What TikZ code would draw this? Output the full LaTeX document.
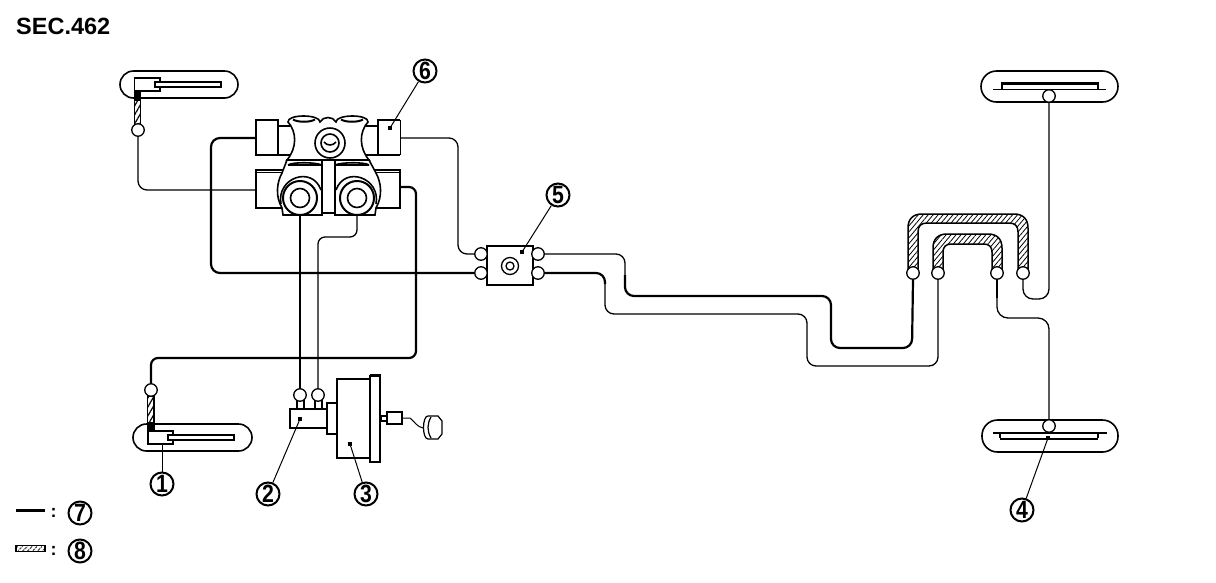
\documentclass[tikz,border=0pt]{standalone}
\usepackage{fontspec}
\setmainfont{Liberation Sans}
\usetikzlibrary{patterns.meta,backgrounds}
\newcommand{\digitnum}[1]{\scalebox{.85}[1]{#1}}
\tikzset{
  x=1pt,y=-1pt,
  thin line/.style={line width=1.3pt,rounded corners=9pt},
  thick line/.style={line width=2.2pt,rounded corners=9pt},
  part/.style={draw,line width=1.6pt,fill=white},
  port/.style={circle,draw,line width=1.3pt,fill=white,inner sep=0pt,minimum size=12.5pt},
  pill/.style={draw,line width=1.6pt,rounded corners=13.5pt},
  wide pill/.style={draw,line width=1.6pt,rounded corners=15.5pt},
  callout/.style={circle,draw,line width=2pt,fill=white,inner sep=0pt,minimum size=23pt,font=\fontsize{25}{25}\selectfont\bfseries},
  leader/.style={line width=1pt},
  tipdot/.style={fill,inner sep=0pt,minimum size=4pt},
  hatch/.style={draw,line width=1.5pt,pattern={Lines[angle=50,distance=3.8pt,line width=.8pt]}},
  valve/.style={line width=1.6pt}
}
\begin{document}
\begin{tikzpicture}
\useasboundingbox (0,0) rectangle (1216,582);
\node[anchor=west,inner sep=0pt,font=\fontsize{23.5}{24}\selectfont\bfseries] (sec) at (16,26) {SEC.462};

% wheels
\draw[pill] (120,71) rectangle (238,98);
\draw[pill] (133,424) rectangle (252,451);
\draw[wide pill] (981,71) rectangle (1118,102);
\draw[wide pill] (982,420) rectangle (1118,452);

% right wheels
\draw[line width=3pt] (1001,83) -- (1099,83);
\draw[line width=1.2pt] (1002,83) -- (1002,89) (1098,83) -- (1098,89);
\draw[line width=1.5pt] (993,89.5) -- (1106,89.5);
\draw[line width=1.5pt] (993,433) -- (1107,433);
\draw[line width=1.2pt] (1000,433) -- (1000,438) (1098,433) -- (1098,438);
\draw[line width=2pt] (1000,438.5) -- (1098,438.5);

% left-top caliper
\draw[hatch,pattern={Lines[angle=60,distance=4.5pt,line width=1.2pt]}] (134.5,91) rectangle (140.5,126);
\fill (134,91) rectangle (141,101);
\draw[part] (134.5,78) -- (160,78) -- (160,91) -- (134.5,91) -- cycle;
\draw[part] (155,82) rectangle (221,87);

% left-bottom caliper
\draw[hatch,pattern={Lines[angle=60,distance=4.5pt,line width=1.2pt]}] (147.5,396) rectangle (154,425);
\fill (147,422) rectangle (155,431);
\draw[part] (148,431) -- (173,431) -- (173,444) -- (148,444) -- cycle;
\draw[part] (168,435) rectangle (234,440);

% hatched hoses
\draw[hatch] (908,273) -- (908,228) .. controls (908,219) and (913,214) .. (922,214) -- (1014,214) .. controls (1023,214) and (1028,219) .. (1028,228) -- (1028,273) -- (1018,273) -- (1018,232) .. controls (1018,226) and (1015,223) .. (1009,223) -- (927,223) .. controls (921,223) and (918,226) .. (918,232) -- (918,273) -- cycle;
\draw[hatch] (933,273) -- (933,248) .. controls (933,239) and (938,234) .. (947,234) -- (988,234) .. controls (997,234) and (1002,239) .. (1002,248) -- (1002,273) -- (992,273) -- (992,252) .. controls (992,247) and (989,244) .. (984,244) -- (951,244) .. controls (946,244) and (943,247) .. (943,252) -- (943,273) -- cycle;

% valve body
\draw[valve] (278,126) -- (292,126) (278,155) -- (292,155);
\draw[valve] (364,126) -- (378,126) (364,155) -- (378,155);
\draw[part] (256,120) rectangle (278,155);
\draw[part] (400,120) -- (378,120) -- (378,155) -- (400,155);
\draw[line width=.7pt] (400,120) -- (400,155);
\draw[part] (284,170) -- (256,170) -- (256,208) -- (284,208);
\draw[line width=.8pt] (257,172) -- (282,172);
\draw[part] (372,170) -- (400,170) -- (400,208) -- (372,208);
\draw[line width=.8pt] (374,172) -- (399,172);
% upper barrels
\draw[valve,fill=white] (288,122) .. controls (297,132) and (297,148) .. (287,160) -- (369,160) .. controls (359,148) and (359,132) .. (368,122) .. controls (369,114) and (336,114) .. (336,122) .. controls (333,116) and (323,116) .. (320,122) .. controls (320,114) and (287,114) .. (288,122) -- cycle;
\draw[line width=2pt] (293,119.5) .. controls (298,122.5) and (310,122.5) .. (315,119.5);
\draw[line width=2pt] (341,119.5) .. controls (346,122.5) and (358,122.5) .. (363,119.5);
% lower bodies
\draw[valve,fill=white] (287,160) -- (322,160) -- (322,215) -- (283,215) -- (282,208) .. controls (275,196) and (277,182) .. (282,173) -- cycle;
\draw[valve,fill=white] (369,160) -- (335,160) -- (335,215) -- (375,215) -- (376,208) .. controls (383,196) and (381,182) .. (376,173) -- cycle;
\draw[valve] (322,213) -- (335,213);
\draw[valve] (288,165) .. controls (292,162) and (315,162) .. (322,165) (288,165) -- (322,165);
\draw[valve] (335,165) .. controls (342,162) and (365,162) .. (369,165) (335,165) -- (369,165);
\draw[valve,fill=white] (330,143) circle[radius=15];
\draw[valve] (330,143) circle[radius=9];
\draw[valve] (324,142) .. controls (327,146) and (333,146) .. (336,142);
\draw[valve] (281,204) .. controls (276,178) and (312,165) .. (321,190);
\draw[valve] (336,190) .. controls (345,165) and (381,178) .. (376,204);
\draw[line width=2pt,fill=white] (300,198) circle[radius=17];
\draw[valve] (300,198) circle[radius=9.5];
\draw[line width=2pt,fill=white] (357,198) circle[radius=17];
\draw[valve] (357,198) circle[radius=9.5];
\coordinate (discL) at (300,198);
\coordinate (discR) at (357,198);
\coordinate (vUL) at (256,138);
\coordinate (vUR) at (400,138);
\coordinate (vLL) at (256,190);
\coordinate (vLR) at (400,187);

% junction block
\node[part,minimum width=46pt,minimum height=39pt,inner sep=0pt] (block) at (510,265.5) {};
\draw[line width=1.3pt] (510,266) circle[radius=8.5] circle[radius=4];

% master cylinder and booster
\draw[line width=1.2pt] (297,400) -- (297,409) (304,400) -- (304,409) (315,400) -- (315,409) (322,400) -- (322,409);
\draw[part] (327,428) -- (290,428) -- (290,409) -- (327,409);
\draw[part] (327,403) rectangle (337,434);
\draw[part] (370,379) -- (337,379) -- (337,458) -- (370,458);
\draw[part] (370,376) rectangle (380,462);
\fill (370,374) rectangle (381,377);
\draw[line width=1.2pt] (381,416) rectangle (387,421);
\draw[line width=1.5pt] (387,412) rectangle (402,424);
\draw[line width=2pt] (402,412) -- (402,424);
\draw[line width=1pt] (403,418) -- (410,418) .. controls (414,421) and (417,427) .. (423,428);
\draw[line width=1.2pt] (428,416) -- (438,416) -- (442,421) -- (442,434) -- (438,439) -- (428,439) .. controls (422,439) and (422,416) .. (428,416) -- cycle;
\draw[line width=1.2pt] (431,417) .. controls (427,424) and (427,431) .. (431,438);

% ports
\node[port] (tl) at (138,130) {};
\node[port] (bl) at (151,390) {};
\node[port] (m1) at (300,395) {};
\node[port] (m2) at (318,395) {};
\node[port] (j1) at (481,254) {};
\node[port] (j2) at (481,273) {};
\node[port] (j3) at (538,254) {};
\node[port] (j4) at (538,273) {};
\node[port] (h1) at (913,273) {};
\node[port] (h2) at (938,273) {};
\node[port] (h3) at (997,273) {};
\node[port] (h4) at (1023,273) {};
\node[port] (wt) at (1049,96) {};
\node[port] (wb) at (1049,426) {};

% connectors
\begin{scope}[on background layer]
\draw[thin line] (tl.south) -- (138,190) -- (vLL);
\draw[thick line] (vUL) -- (211,138) -- (211,273) -- (j2.west);
\draw[thin line] (vUR) -- (458,138) -- (458,254) -- (j1.west);
\draw[thick line,rounded corners=7pt] (vLR) -- (416,187) -- (416,358) -- (151,358) -- (bl.north);
\draw[thick line] (discL) -- (m1.north);
\draw[thin line,rounded corners=7pt] (discR) -- (357,237) -- (318,237) -- (m2.north);
\draw[thin line] (j3.east) -- (625,254) -- (625,285);
\draw[thick line] (625,275) -- (625,296) -- (831,296) -- (831,348) -- (912,348) -- (h1.south);
\draw[thick line] (j4.east) -- (605,273) -- (605,284);
\draw[thin line] (605,280) -- (605,314) -- (807,314) -- (807,366) -- (938,366) -- (h2.south);
\draw[thick line,rounded corners=0pt,line width=1.8pt] (h3.south) -- (997,298);
\draw[thin line,rounded corners=11pt] (997,295) -- (997,318) -- (1049,318) -- (wb.north);
\draw[thin line,rounded corners=10pt] (h4.south) -- (1023,299) -- (1049,299) -- (wt.south);
\end{scope}

% callouts
\coordinate (d1) at (162,444);
\node[tipdot] (d2) at (300,419) {};
\node[tipdot] (d3) at (350,444) {};
\node[tipdot] (d4) at (1048,438) {};
\node[tipdot] (d5) at (522,252) {};
\node[tipdot] (d6) at (390,128) {};
\node[callout] (c1) at (162,484) {\digitnum{1}};
\node[callout] (c2) at (268,494) {\digitnum{2}};
\node[callout] (c3) at (366,494) {\digitnum{3}};
\node[callout] (c4) at (1022,510) {\digitnum{4}};
\node[callout] (c5) at (558,195) {\digitnum{5}};
\node[callout] (c6) at (425,71) {\digitnum{6}};
\node[callout] (c7) at (80,513) {\digitnum{7}};
\node[callout] (c8) at (80,551) {\digitnum{8}};
\draw[leader] (d1) -- (c1);
\draw[leader] (d2.center) -- (c2);
\draw[leader] (d3.center) -- (c3);
\draw[leader] (d4.center) -- (c4);
\draw[leader] (d5.center) -- (c5);
\draw[leader] (d6.center) -- (c6);

% legend
\draw[line width=2.2pt] (16,510.5) -- (45,510.5);
\draw[line width=1.2pt,pattern={Lines[angle=50,distance=4pt,line width=1.2pt]}] (16,545.5) rectangle (45,551.5);
\node[font=\fontsize{18}{18}\selectfont\bfseries] (cl7) at (53.5,512.5) {:};
\node[font=\fontsize{18}{18}\selectfont\bfseries] (cl8) at (53.5,550.5) {:};
\end{tikzpicture}
\end{document}
